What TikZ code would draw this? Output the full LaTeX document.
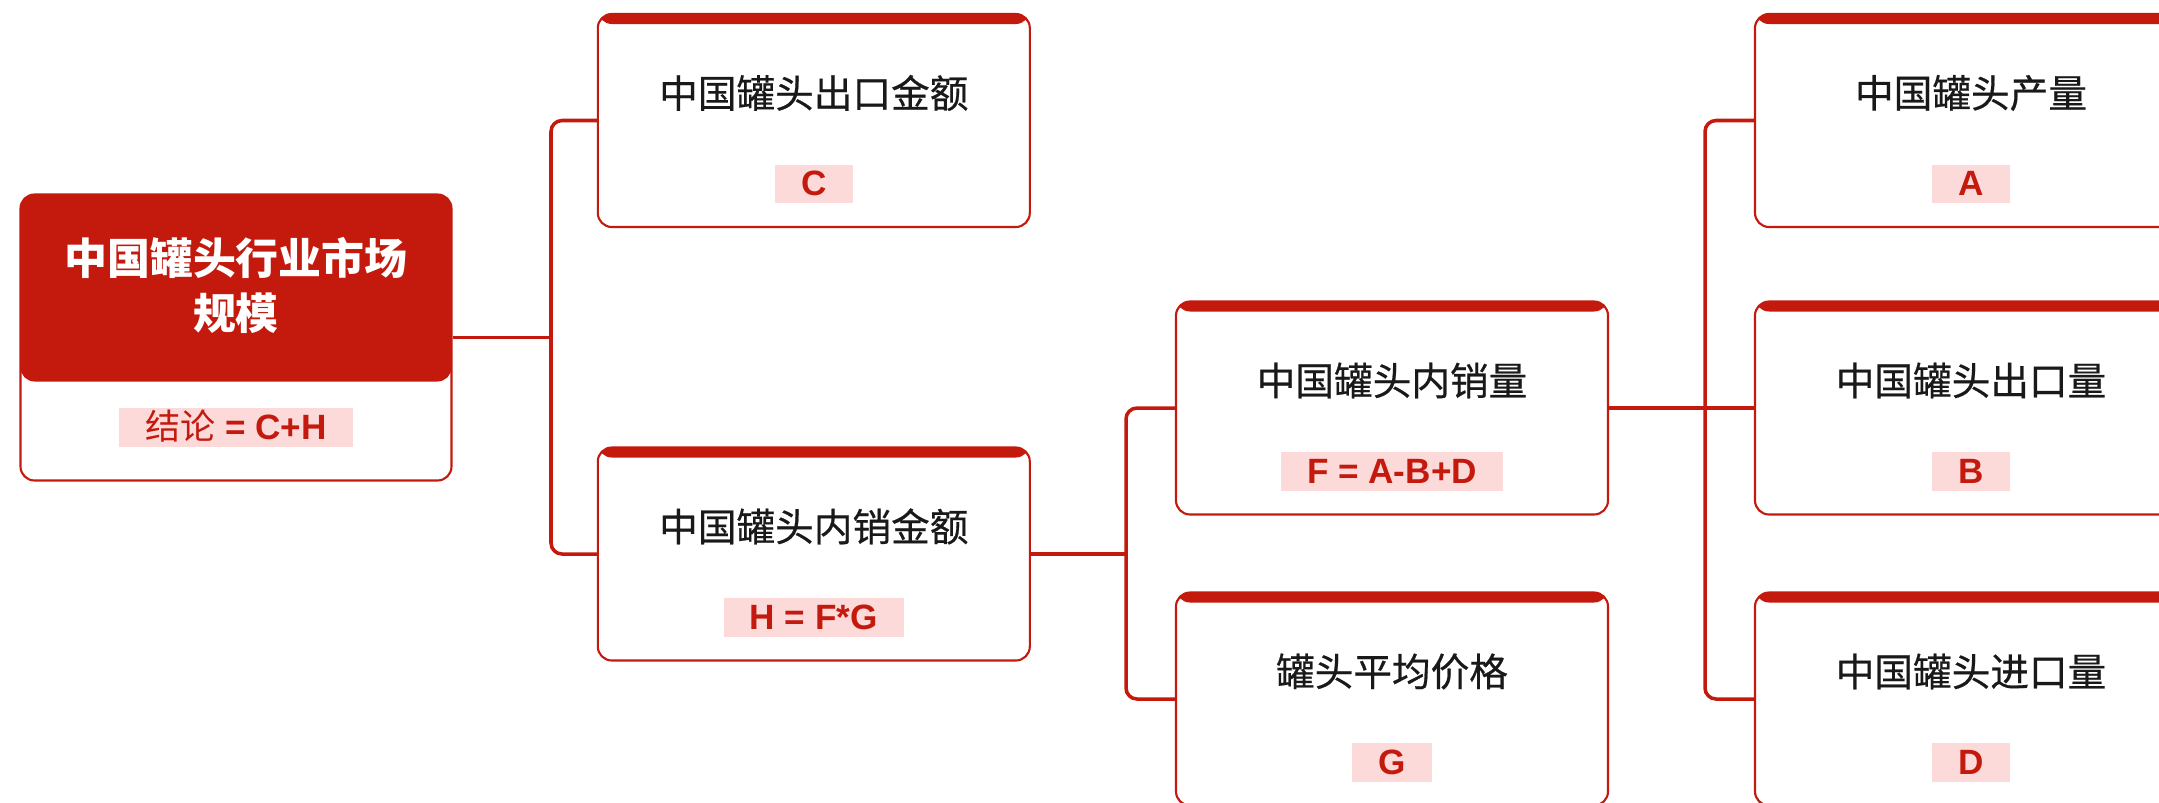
\documentclass[tikz,border=0pt]{standalone}
\usepackage{fontspec}
\setmainfont{Liberation Sans}
\newfontfamily\cjk{Noto Sans CJK SC}
\newfontfamily\cjkmid{Noto Sans CJK SC}[FakeBold=0.5]
\usetikzlibrary{positioning}

\definecolor{canred}{RGB}{196, 26, 14}
\definecolor{hlpink}{RGB}{253, 218, 218}
\definecolor{txtdark}{RGB}{25, 25, 25}

\tikzset{
  card/.style={draw=canred, line width=0.6pt, fill=white, rounded corners=0.14cm,
    minimum width=4.32cm, minimum height=2.13cm, inner sep=0pt,
    path picture={\fill[canred] (path picture bounding box.north west)
      rectangle ([yshift=-0.1cm]path picture bounding box.north east);}},
  rootcard/.style={card, minimum width=4.31cm, minimum height=2.86cm,
    path picture={\fill[canred] (path picture bounding box.north west)
      rectangle ([yshift=-1.87cm]path picture bounding box.north east);}},
  cardtitle/.style={text=txtdark, font=\cjkmid\fontsize{11}{13}\selectfont, inner sep=0pt},
  roottitle/.style={text=white, align=center, font=\cjk\bfseries\fontsize{12.2}{15.6}\selectfont, inner sep=0pt},
  formula/.style={fill=hlpink, text=canred, inner xsep=0.26cm, inner ysep=0pt,
    minimum height=0.385cm, text height=2.7mm, text depth=0.3mm,
    font=\bfseries\fontsize{10}{12}\selectfont},
  link/.style={draw=canred, line width=1pt, rounded corners=0.11cm}
}

\begin{document}
\begin{tikzpicture}
  \clip (0,0) rectangle (21.59,-8.02);

  % root
  \node[rootcard] (root) at (2.36,-3.375) {};
  \node[roottitle] (roottxt) at ([yshift=-0.92cm]root.north) {中国罐头行业市场\\规模};
  \node[formula] (rootf) at ([yshift=-2.34cm]root.north) {{\cjk\mdseries 结论} = C+H};

  % first level
  \node[card] (cexp) at (8.138,-1.205) {};
  \node[cardtitle] (cexptxt) at ([yshift=-0.80cm]cexp.north) {中国罐头出口金额};
  \node[formula] (cexpf) at ([yshift=-1.71cm]cexp.north) {C};

  \node[card] (hdom) at (8.138,-5.54) {};
  \node[cardtitle] (hdomtxt) at ([yshift=-0.80cm]hdom.north) {中国罐头内销金额};
  \node[formula] (hdomf) at ([yshift=-1.71cm]hdom.north) {H = F*G};

  % second level
  \node[card] (fvol) at (13.92,-4.08) {};
  \node[cardtitle] (fvoltxt) at ([yshift=-0.80cm]fvol.north) {中国罐头内销量};
  \node[formula] (fvolf) at ([yshift=-1.71cm]fvol.north) {F = A-B+D};

  \node[card] (gprice) at (13.92,-6.99) {};
  \node[cardtitle] (gpricetxt) at ([yshift=-0.80cm]gprice.north) {罐头平均价格};
  \node[formula] (gpricef) at ([yshift=-1.71cm]gprice.north) {G};

  % third level
  \node[card] (aprod) at (19.71,-1.205) {};
  \node[cardtitle] (aprodtxt) at ([yshift=-0.80cm]aprod.north) {中国罐头产量};
  \node[formula] (aprodf) at ([yshift=-1.71cm]aprod.north) {A};

  \node[card] (bexp) at (19.71,-4.08) {};
  \node[cardtitle] (bexptxt) at ([yshift=-0.80cm]bexp.north) {中国罐头出口量};
  \node[formula] (bexpf) at ([yshift=-1.71cm]bexp.north) {B};

  \node[card] (dimp) at (19.71,-6.99) {};
  \node[cardtitle] (dimptxt) at ([yshift=-0.80cm]dimp.north) {中国罐头进口量};
  \node[formula] (dimpf) at ([yshift=-1.71cm]dimp.north) {D};

  % connectors
  \coordinate (s1) at (5.51,0);
  \coordinate (s2) at (11.26,0);
  \coordinate (s3) at (17.05,0);

  \draw[link] (root.east) -- (root.east -| s1);
  \draw[link] (cexp.west) -- (cexp.west -| s1) -- (hdom.west -| s1) -- (hdom.west);

  \draw[link] (hdom.east) -- (hdom.east -| s2);
  \draw[link] (fvol.west) -- (fvol.west -| s2) -- (gprice.west -| s2) -- (gprice.west);

  \draw[link] (fvol.east) -- (bexp.west);
  \draw[link] (aprod.west) -- (aprod.west -| s3) -- (dimp.west -| s3) -- (dimp.west);
\end{tikzpicture}
\end{document}
